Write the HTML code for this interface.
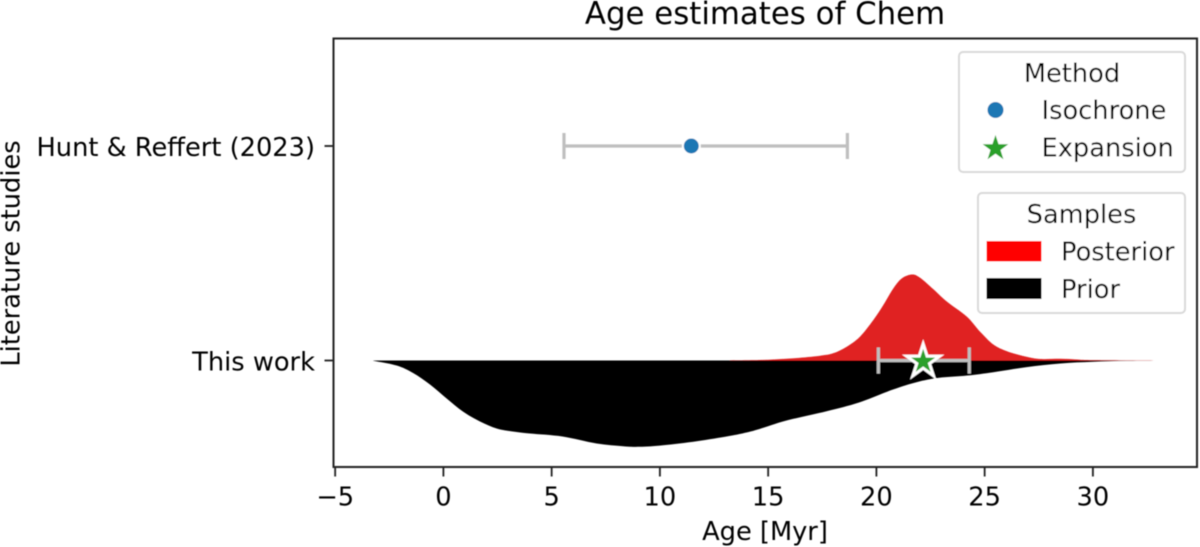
<!DOCTYPE html>
<html>
<head>
<meta charset="utf-8">
<title>Age estimates of Chem</title>
<style>
html,body{margin:0;padding:0;background:#fff;width:1200px;height:547px;overflow:hidden}
svg{display:block;font-family:"DejaVu Sans","Liberation Sans",sans-serif;fill:#000}
</style>
</head>
<body>
<svg id="chart" width="1200" height="547" viewBox="0 0 1200 547" xmlns="http://www.w3.org/2000/svg">
  <defs><filter id="soft" x="-5%" y="-5%" width="110%" height="110%"><feGaussianBlur stdDeviation="0.5"/></filter></defs>
  <g id="root" filter="url(#soft)">
    <text x="765" y="24" font-size="30.8" text-anchor="middle">Age estimates of Chem</text>
    <text x="765" y="540" font-size="25.7" text-anchor="middle">Age [Myr]</text>
    <text transform="translate(19.5,253.5) rotate(-90)" font-size="25.7" text-anchor="middle">Literature studies</text>
    <g id="marks"></g>
    <rect x="333.5" y="38.5" width="863.5" height="428.5" fill="none" stroke="#222" stroke-width="2"/>
    <g id="ticks"></g>
    <g>
      <rect x="959" y="52" width="226" height="120" rx="4" fill="#fff" stroke="#d9d9d9" stroke-width="2"/>
      <text x="1072" y="82" font-size="25.7" text-anchor="middle">Method</text>
      <circle cx="995.5" cy="110" r="8" fill="#1f77b4"/>
      <text x="1041.5" y="119" font-size="25.7">Isochrone</text>
      <polygon points="995.5,135 998.6,144.2 1008.3,144.2 1000.5,150 1003.4,159.2 995.5,153.6 987.6,159.2 990.5,150 982.7,144.2 992.4,144.2" fill="#2ca02c"/>
      <text x="1041.5" y="156.5" font-size="25.7">Expansion</text>
    </g>
    <g>
      <rect x="978" y="193" width="207" height="120" rx="4" fill="#fff" stroke="#d9d9d9" stroke-width="2"/>
      <text x="1081.5" y="223" font-size="25.7" text-anchor="middle">Samples</text>
      <rect x="986.5" y="241" width="55" height="20.5" fill="#ff0000"/>
      <text x="1061" y="260.5" font-size="25.7">Posterior</text>
      <rect x="986.5" y="278" width="55" height="21" fill="#000"/>
      <text x="1061" y="298" font-size="25.7">Prior</text>
    </g>
  </g>
</svg>
<script>
const xTickValues = [-5, 0, 5, 10, 15, 20, 25, 30];
const yCategories = ["This work", "Hunt & Reffert (2023)"];

const posteriorAges = [13.0, 14.6, 16.2, 17.4, 18.0, 18.63, 19.24, 19.86, 20.32, 20.78, 21.17, 21.63, 22.0, 22.62, 23.25, 24.17, 24.78, 25.4, 26.0, 26.6, 27.2, 27.7, 28.5, 29.25, 29.97, 33.3];
const posteriorDensity = [0, 0.5, 2.3, 4.8, 7.2, 13.8, 23.8, 40.5, 55.5, 72, 82, 86, 83, 71.5, 59, 44, 29, 16, 9.5, 5.5, 2.5, 1.4, 1.7, 1, 0.4, 0];

const priorAges = [-3.24, -2.16, -1.4, -0.62, 0.15, 0.9, 1.69, 2.46, 3.2, 4.0, 5.5, 7.08, 8.3, 9.07, 10.15, 11.7, 13.2, 14.0, 14.6, 15.85, 17.7, 19.2, 20.77, 21.85, 22.9, 24.2, 25.4, 26.9, 28.5, 30.0, 31.56, 33.3];
const priorDensity = [0.3, 5, 12.5, 24, 38, 51, 61, 68, 71, 73, 76, 83, 85.7, 86.3, 84.7, 80.7, 75.5, 72, 68.5, 60, 50.7, 42, 29, 21.7, 17.3, 15, 11.7, 6.7, 3, 1.3, 0.3, 0];

const huntAge = 11.45;
const huntLow = 5.57;
const huntHigh = 18.66;
const thisWorkAge = 22.16;
const thisWorkLow = 20.09;
const thisWorkHigh = 24.29;

const NS = 'http://www.w3.org/2000/svg';
function xScale(age) { return 443.4 + 21.65 * age; }
function yScale(index) { return 360.5 - 214.5 * index; }
function heightScale(d) { return d; }

function make(tag, attrs, parent) {
  const el = document.createElementNS(NS, tag);
  for (const k in attrs) el.setAttribute(k, attrs[k]);
  parent.appendChild(el);
  return el;
}

function curve(ages, dens, sign) {
  const base = yScale(0);
  const pts = ages.map((a, i) => [xScale(a), base + sign * heightScale(dens[i])]);
  let d = 'M' + xScale(ages[0]).toFixed(2) + ' ' + base;
  d += 'L' + pts[0][0].toFixed(2) + ' ' + pts[0][1].toFixed(2);
  for (let i = 0; i < pts.length - 1; i++) {
    const p0 = pts[Math.max(i - 1, 0)], p1 = pts[i], p2 = pts[i + 1], p3 = pts[Math.min(i + 2, pts.length - 1)];
    const c1x = p1[0] + (p2[0] - p0[0]) / 6, c1y = p1[1] + (p2[1] - p0[1]) / 6;
    const c2x = p2[0] - (p3[0] - p1[0]) / 6, c2y = p2[1] - (p3[1] - p1[1]) / 6;
    d += 'C' + c1x.toFixed(2) + ' ' + c1y.toFixed(2) + ' ' + c2x.toFixed(2) + ' ' + c2y.toFixed(2) + ' ' + p2[0].toFixed(2) + ' ' + p2[1].toFixed(2);
  }
  return d + 'L' + xScale(ages[ages.length - 1]).toFixed(2) + ' ' + base + 'Z';
}

function errorBar(parent, name, low, high, index) {
  const y = yScale(index);
  const g = make('g', {}, parent);
  
  
  make('path', {
    d: 'M' + xScale(low) + ' ' + y + 'H' + xScale(high) +
       'M' + xScale(low) + ' ' + (y - 13) + 'V' + (y + 13) +
       'M' + xScale(high) + ' ' + (y - 13) + 'V' + (y + 13),
    stroke: '#bfbfbf', 'stroke-width': 3.2, fill: 'none'
  }, g);
}

function starPoints(cx, cy, R) {
  const r = R * 0.382, out = [];
  for (let i = 0; i < 10; i++) {
    const rad = i % 2 ? r : R, t = -Math.PI / 2 + i * Math.PI / 5;
    out.push((cx + rad * Math.cos(t)).toFixed(2) + ',' + (cy + rad * Math.sin(t)).toFixed(2));
  }
  return out.join(' ');
}

const marks = document.getElementById('marks');
const ticks = document.getElementById('ticks');

const posteriorEl = make('path', { d: curve(posteriorAges, posteriorDensity, -1), fill: '#e02020' }, marks);



const priorEl = make('path', { d: curve(priorAges, priorDensity, 1), fill: '#000' }, marks);



errorBar(marks, 'hunt-reffert-error-bar', huntLow, huntHigh, 1);
errorBar(marks, 'this-work-error-bar', thisWorkLow, thisWorkHigh, 0);

const huntPoint = make('circle', { cx: xScale(huntAge), cy: yScale(1), r: 8.5, fill: '#1f77b4', stroke: '#fff', 'stroke-width': 2 }, marks);



const starPoint = make('polygon', {
  points: starPoints(xScale(thisWorkAge), yScale(0) + 1, 17.5),
  fill: '#2ca02c', stroke: '#fff', 'stroke-width': 3, 'stroke-linejoin': 'miter'
}, marks);



xTickValues.forEach(function (v) {
  const x = xScale(v);
  const tick = make('line', { x1: x, x2: x, y1: 467, y2: 476.5, stroke: '#222', 'stroke-width': 1.8 }, ticks);
  
  
  const label = make('text', { x: x, y: 505.5, 'font-size': 25.7, 'text-anchor': 'middle' }, ticks);
  
  
  label.textContent = String(v).replace('-', '\u2212');
});

yCategories.forEach(function (c, i) {
  const y = yScale(i);
  const tick = make('line', { x1: 324.5, x2: 333.5, y1: y, y2: y, stroke: '#222', 'stroke-width': 1.8 }, ticks);
  
  
  const label = make('text', { x: 315, y: y + 10, 'font-size': 25.7, 'text-anchor': 'end' }, ticks);
  
  
  label.textContent = c;
});
</script>
</body>
</html>
